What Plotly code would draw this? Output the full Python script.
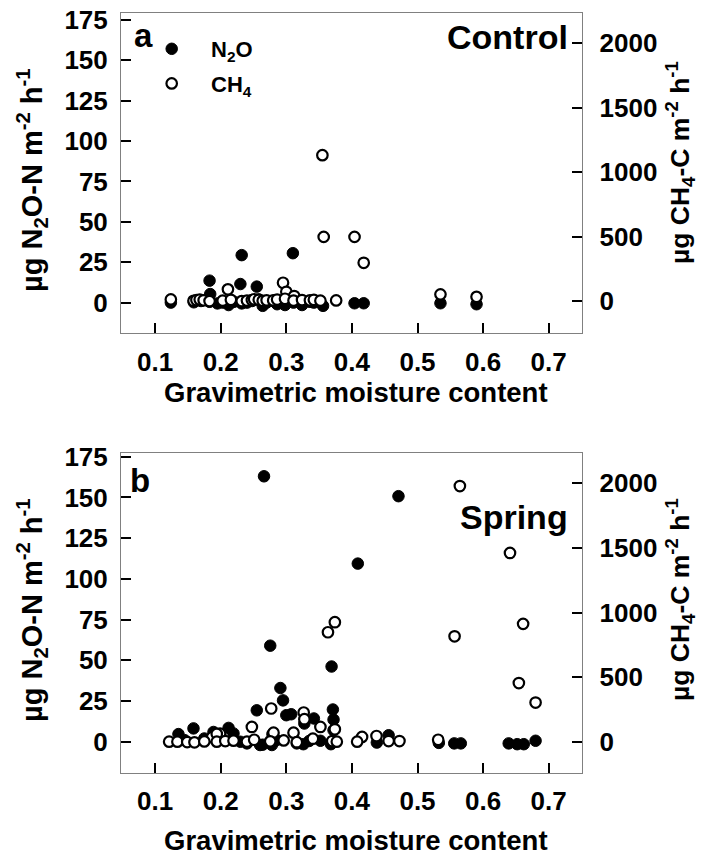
import plotly.graph_objects as go

# ---------------- data ----------------
x_ticks = [0.1, 0.2, 0.3, 0.4, 0.5, 0.6, 0.7]
n2o_ticks = [0, 25, 50, 75, 100, 125, 150, 175]
ch4_ticks = [0, 500, 1000, 1500, 2000]

# Panel a (Control)
ctrl_n2o_x = [0.232, 0.310, 0.183, 0.230, 0.255, 0.184,
              0.124, 0.159, 0.170, 0.183, 0.195, 0.203, 0.212, 0.220, 0.232, 0.240,
              0.248, 0.258, 0.264, 0.270, 0.280, 0.286, 0.298, 0.300, 0.311, 0.324,
              0.336, 0.342, 0.356, 0.404, 0.418, 0.535, 0.590]
ctrl_n2o_y = [29.4, 30.6, 13.6, 11.5, 9.9, 5.3,
              0.0, 0.2, 1.0, 0.5, -0.5, 0.0, -1.5, 0.5, -0.5, 0.0,
              1.0, 2.0, -2.0, 0.0, 1.0, -1.0, -1.5, 2.0, 0.0, -1.5,
              0.5, 0.0, -2.0, -0.4, -0.4, -0.4, -1.0]

ctrl_ch4_x = [0.355, 0.357, 0.404, 0.418, 0.295, 0.300, 0.211, 0.312, 0.535, 0.590, 0.124, 0.376,
              0.1585, 0.163, 0.168, 0.174, 0.183, 0.203, 0.2155, 0.232, 0.240, 0.2475, 0.251,
              0.258, 0.264, 0.270, 0.280, 0.286, 0.298, 0.311, 0.324, 0.336, 0.342, 0.352]
ctrl_ch4_y = [1132, 498, 498, 297, 142, 72, 91, 39, 52, 33, 13, 5,
              2, 8, 12, 6, 0, 3, 10, 0, 4, 8, 14,
              10, 2, 6, 5, 12, 18, 4, 8, 6, 10, 3]

# Panel b (Spring)
spr_n2o_x = [0.266, 0.471, 0.409, 0.2755, 0.369, 0.291, 0.295, 0.255, 0.371, 0.300, 0.3075,
             0.372, 0.3275, 0.342, 0.1585, 0.212, 0.1356, 0.372, 0.2195, 0.189, 0.352, 0.456,
             0.438, 0.5325, 0.556, 0.566, 0.639, 0.652, 0.662, 0.680, 0.264, 0.278, 0.260,
             0.316, 0.326, 0.368, 0.240, 0.145, 0.175, 0.200, 0.230, 0.285, 0.335]
spr_n2o_y = [163, 150.8, 109.4, 59, 46.2, 33, 25.4, 19.3, 19.8, 16.3, 16.9,
             13.6, 11.2, 14.3, 8.2, 8.5, 4.7, 7.1, 5.1, 6, 0.6, 4,
             -0.5, -0.7, -1, -1, -1, -1.5, -1.5, 0.6, -1.8, -2, -2,
             -1, -1.5, -1.5, -1, 1, 2, 3, 0, 1, 0.5]

spr_ch4_x = [0.5646, 0.641, 0.374, 0.3635, 0.5565, 0.661, 0.6545, 0.680, 0.277, 0.3265, 0.3275,
             0.2475, 0.352, 0.374, 0.311, 0.279, 0.3405, 0.4155, 0.4375, 0.5315, 0.408, 0.456,
             0.4725, 0.199, 0.2805, 0.187, 0.194,
             0.1214, 0.134, 0.149, 0.160, 0.175, 0.194, 0.207, 0.2195, 0.240, 0.251, 0.2755,
             0.296, 0.316, 0.370, 0.377]
spr_ch4_y = [1979, 1461, 925, 847, 816, 912, 454, 303, 257, 226, 174,
             114, 114, 96, 70, 57, 23, 37, 44, 15, 0, 5,
             5, 62, 70, 35, 60,
             0, 0, -3, -5, 2, 0, 5, 8, 0, 15, 3,
             10, -4, 5, 0]

# ---------------- figure ----------------
W, H = 703, 858
FONT = "Liberation Sans, Arial, sans-serif"

filled = dict(symbol="circle", size=11.5, color="black", line=dict(color="black", width=1))
hollow = dict(symbol="circle", size=10.5, color="white", line=dict(color="black", width=2.2))

fig = go.Figure()
fig.add_trace(go.Scatter(x=ctrl_n2o_x, y=ctrl_n2o_y, mode="markers", name="N<sub>2</sub>O",
                         legendgroup="n2o", marker=filled, xaxis="x", yaxis="y"))
fig.add_trace(go.Scatter(x=ctrl_ch4_x, y=ctrl_ch4_y, mode="markers", name="CH<sub>4</sub>",
                         legendgroup="ch4", marker=hollow, xaxis="x", yaxis="y2"))
fig.add_trace(go.Scatter(x=spr_n2o_x, y=spr_n2o_y, mode="markers", name="N<sub>2</sub>O",
                         marker=filled, xaxis="x2", yaxis="y3", showlegend=False))
fig.add_trace(go.Scatter(x=spr_ch4_x, y=spr_ch4_y, mode="markers", name="CH<sub>4</sub>",
                         marker=hollow, xaxis="x2", yaxis="y4", showlegend=False))

tickfont = dict(family=FONT, size=26, color="black", weight="bold")
xdom = [121 / W, 581.5 / W]
top_dom = [1 - 333.3 / H, 1 - 12.7 / H]
bot_dom = [1 - 772.7 / H, 1 - 452.7 / H]

common = dict(ticks="inside", ticklen=10, tickwidth=2.2, tickcolor="black",
              showgrid=False, zeroline=False, tickfont=tickfont, automargin=False)
xcommon = dict(common, range=[0.048, 0.75], tickvals=x_ticks, ticktext=[f"{v:.1f}" for v in x_ticks],
               showline=True, linecolor="#808080", linewidth=1, mirror=True,
               ticklabelstandoff=5, domain=xdom)
ylcommon = dict(common, tickvals=n2o_ticks, showline=True, linecolor="#808080", linewidth=1,
                mirror=True, ticklabelstandoff=7)
yrcommon = dict(common, tickvals=ch4_ticks, showline=False, side="right", ticklabelstandoff=17)

fig.update_layout(
    width=W, height=H,
    margin=dict(l=0, r=0, t=0, b=0, autoexpand=False),
    paper_bgcolor="white", plot_bgcolor="white",
    font=dict(family=FONT, color="black"),
    xaxis=dict(xcommon, anchor="y"),
    yaxis=dict(ylcommon, domain=top_dom, anchor="x", range=[-19, 179.5]),
    yaxis2=dict(yrcommon, overlaying="y", anchor="x", range=[-250, 2237]),
    xaxis2=dict(xcommon, anchor="y3"),
    yaxis3=dict(ylcommon, domain=bot_dom, anchor="x2", range=[-19, 177.5]),
    yaxis4=dict(yrcommon, overlaying="y3", anchor="x2", range=[-240, 2237]),
    legend=dict(x=132.4 / W, y=1 - 28 / H, xanchor="left", yanchor="top",
                bgcolor="rgba(0,0,0,0)", borderwidth=0, itemwidth=68.6,
                font=dict(family=FONT, size=22, color="black", weight="bold"),
                traceorder="grouped", tracegroupgap=3),
    showlegend=True,
)

def px(x):
    return x / W

def py(y):
    return 1 - y / H

ann = []
bold = lambda s: dict(family=FONT, size=s, color="black", weight="bold")
ann.append(dict(text="a", x=px(143), y=py(35), font=bold(33), xanchor="center", yanchor="middle"))
ann.append(dict(text="Control", x=px(570), y=py(37), font=bold(34), xanchor="right", yanchor="middle"))
ann.append(dict(text="b", x=px(140), y=py(480), font=bold(33), xanchor="center", yanchor="middle"))
ann.append(dict(text="Spring", x=px(570), y=py(517), font=bold(34), xanchor="right", yanchor="middle"))
for yc in (392, 840):
    ann.append(dict(text="Gravimetric moisture content", x=px(356), y=py(yc), font=bold(27.5),
                    xanchor="center", yanchor="middle"))
ylab = "\u00b5g N<sub>2</sub>O-N m<sup>-2</sup> h<sup>-1</sup>"
rlab = "\u00b5g CH<sub>4</sub>-C m<sup>-2</sup> h<sup>-1</sup>"
for yc in (180, 610):
    ann.append(dict(text=ylab, x=px(32), y=py(yc), font=bold(29), textangle=-90,
                    xanchor="center", yanchor="middle"))
for yc in (163, 600):
    ann.append(dict(text=rlab, x=px(680), y=py(yc), font=bold(26.5), textangle=-90,
                    xanchor="center", yanchor="middle"))
for a in ann:
    a.update(xref="paper", yref="paper", showarrow=False)
fig.update_layout(annotations=ann)

fig.write_html("out.html")
